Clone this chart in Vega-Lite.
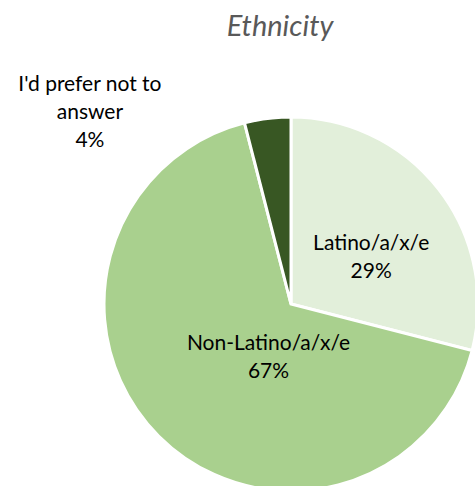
{
  "$schema": "https://vega.github.io/schema/vega-lite/v6.json",
  "autosize": "none",
  "width": 582,
  "height": 488,
  "padding": {"left": 0, "top": 60, "right": 0, "bottom": 0},
  "background": "white",
  "title": {
    "text": "Ethnicity",
    "font": "Lato",
    "fontSize": 29,
    "fontStyle": "italic",
    "fontWeight": "normal",
    "color": "#595959",
    "anchor": "middle",
    "dx": -11,
    "offset": 18
  },
  "data": {
    "values": [
      {"group": "Latino/a/x/e", "share": 29, "rank": 1, "label": "Latino/a/x/e\n29%"},
      {"group": "Non-Latino/a/x/e", "share": 67, "rank": 2, "label": "Non-Latino/a/x/e\n67%"},
      {"group": "I'd prefer not to answer", "share": 4, "rank": 3, "label": "I'd prefer not to\nanswer\n4%"}
    ]
  },
  "transform": [
    {"stack": "share", "groupby": [], "sort": [{"field": "rank", "order": "ascending"}], "as": ["s0", "s1"]},
    {"calculate": "(datum.s0 + datum.s1) / 2", "as": "mid"}
  ],
  "layer": [
    {
      "mark": {"type": "arc", "outerRadius": 187, "stroke": "white", "strokeWidth": 3},
      "encoding": {
        "theta": {"field": "s0", "type": "quantitative", "scale": {"domain": [0, 100]}},
        "theta2": {"field": "s1"},
        "color": {
          "field": "group",
          "type": "nominal",
          "scale": {
            "domain": ["Latino/a/x/e", "Non-Latino/a/x/e", "I'd prefer not to answer"],
            "range": ["#e2efda", "#a9d08e", "#385723"]
          },
          "legend": null
        }
      }
    },
    {
      "transform": [{"filter": "datum.rank == 1"}],
      "mark": {"type": "text", "radius": 85, "font": "Lato", "fontSize": 21, "lineBreak": "\n", "lineHeight": 28, "color": "#000000", "baseline": "middle", "dx": 13, "dy": -8},
      "encoding": {"theta": {"field": "mid", "type": "quantitative"}, "text": {"field": "label"}}
    },
    {
      "transform": [{"filter": "datum.rank == 2"}],
      "mark": {"type": "text", "radius": 70, "font": "Lato", "fontSize": 21, "lineBreak": "\n", "lineHeight": 28, "color": "#000000", "baseline": "middle", "dx": 27, "dy": -9},
      "encoding": {"theta": {"field": "mid", "type": "quantitative"}, "text": {"field": "label"}}
    },
    {
      "transform": [{"filter": "datum.rank == 3"}],
      "mark": {"type": "text", "radius": 200, "font": "Lato", "fontSize": 21, "lineBreak": "\n", "lineHeight": 28, "color": "#000000", "baseline": "middle", "dx": -176, "dy": -21},
      "encoding": {"theta": {"field": "mid", "type": "quantitative"}, "text": {"field": "label"}}
    }
  ]
}
